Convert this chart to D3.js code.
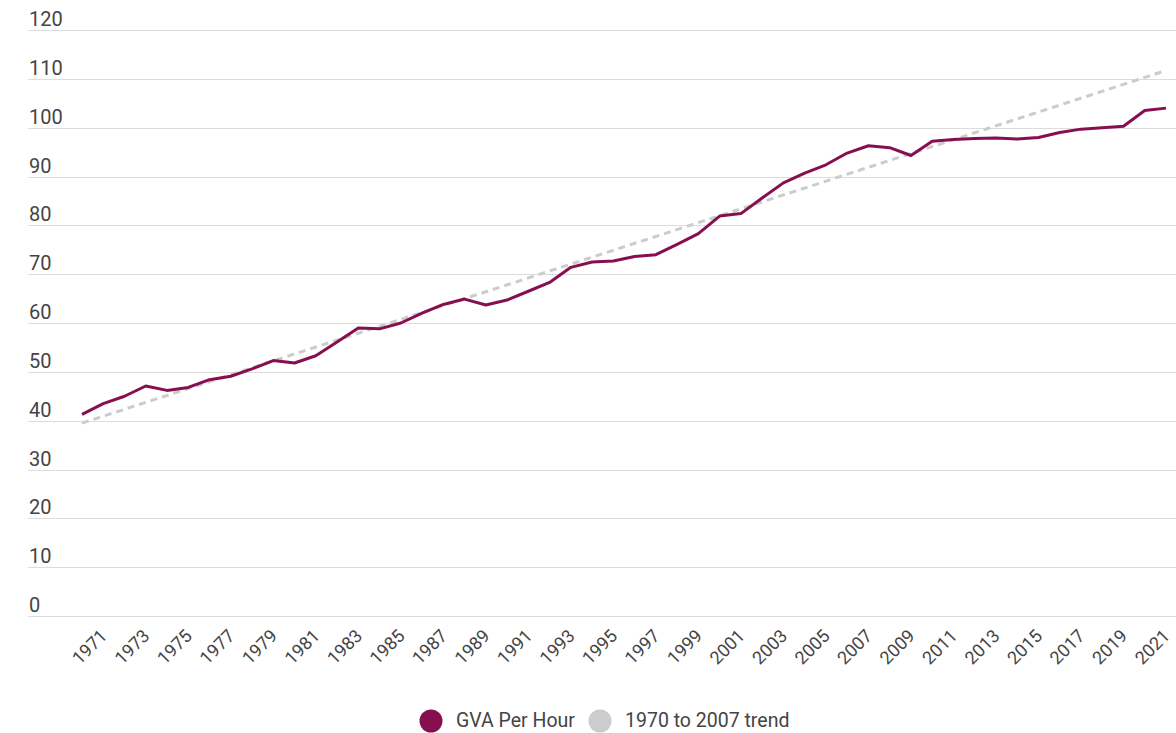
<!DOCTYPE html>
<html>
<head>
<meta charset="utf-8">
<script src="https://cdn.jsdelivr.net/npm/d3@7"></script>
<style>
  html, body { margin: 0; padding: 0; background: #fff; }
  svg { display: block; font-family: Roboto, "Noto Sans", sans-serif; }
</style>
</head>
<body>
<svg id="chart" width="1176" height="733"></svg>
<script>
const years = d3.range(1970, 2022);
const gvaPerHour = [
  41.3, 43.5, 45.0, 47.1, 46.2, 46.8, 48.4, 49.1, 50.6, 52.3,
  51.8, 53.3, 56.1, 59.0, 58.8, 60.0, 62.0, 63.8, 64.9, 63.7,
  64.7, 66.5, 68.3, 71.4, 72.5, 72.7, 73.6, 74.0, 76.1, 78.3,
  81.9, 82.4, 85.6, 88.7, 90.7, 92.4, 94.8, 96.3, 95.9, 94.3,
  97.2, 97.6, 97.8, 97.9, 97.7, 98.0, 99.0, 99.7, 100.0, 100.3,
  103.5, 104.0
];
const trendYears = [1970, 2021];
const trendValues = [39.5, 111.7];
const yTicks = [0, 10, 20, 30, 40, 50, 60, 70, 80, 90, 100, 110, 120];
const xTickYears = d3.range(1971, 2022, 2);
const seriesNames = ["GVA Per Hour", "1970 to 2007 trend"];
const seriesColors = ["#870f50", "#cccccc"];

const svg = d3.select("#chart");
const x = d3.scaleLinear().domain([1970, 2021]).range([82, 1166]);
const y = d3.scaleLinear().domain([0, 120]).range([616, 30]);

// gridlines
const grid = svg.append("g");
grid.selectAll("line").data(yTicks).join("line")
  .attr("x1", 28).attr("x2", 1176)
  .attr("y1", d => Math.round(y(d)) + 0.5).attr("y2", d => Math.round(y(d)) + 0.5)
  .attr("stroke", "#dcdcdc").attr("stroke-width", 1);
grid.selectAll("text").data(yTicks).join("text")
  .attr("x", 29).attr("y", d => y(d) - 4)
  .attr("fill", "#444").attr("font-size", 20)
  .text(d => d);

// x labels
svg.append("g").selectAll("text").data(xTickYears).join("text")
  .attr("text-anchor", "end")
  .attr("font-size", 18)
  .attr("fill", "#444")
  .attr("transform", d => `translate(${x(d) + 5},${637}) rotate(-45)`)
  .text(d => d);

// trend line
const trendData = trendYears.map((yr, i) => ({ yr, v: trendValues[i] }));
svg.append("path")
  .datum(trendData)
  .attr("fill", "none")
  .attr("stroke", seriesColors[1])
  .attr("stroke-width", 3)
  .attr("stroke-dasharray", "7,5")
  .attr("d", d3.line().x(d => x(d.yr)).y(d => y(d.v)));

// main line
const gvaData = years.map((yr, i) => ({ yr, v: gvaPerHour[i] }));
svg.append("path")
  .datum(gvaData)
  .attr("fill", "none")
  .attr("stroke", seriesColors[0])
  .attr("stroke-width", 3)
  .attr("stroke-linejoin", "round")
  .attr("d", d3.line().x(d => x(d.yr)).y(d => y(d.v)));

// legend
const legendX = [431, 600];
const lg = svg.append("g");
seriesNames.forEach((name, i) => {
  lg.append("circle").attr("cx", legendX[i]).attr("cy", 721).attr("r", 11.5)
    .attr("fill", seriesColors[i]);
  lg.append("text").attr("x", legendX[i] + 25).attr("y", 727)
    .attr("font-size", 19.5).attr("fill", "#444").text(name);
});
</script>
</body>
</html>
